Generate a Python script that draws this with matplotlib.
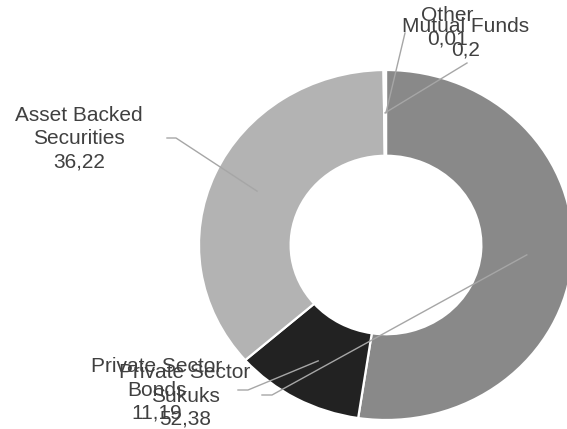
import numpy as np
import matplotlib.pyplot as plt

plt.rcParams['font.family'] = ['Liberation Sans', 'DejaVu Sans']

labels = ['Private Sector\nSukuks', 'Private Sector\nBonds', 'Asset Backed\nSecurities',
          'Mutual Funds', 'Other']
values = [52.38, 11.19, 36.22, 0.2, 0.01]
colors = ['#898989', '#222222', '#b3b3b3', '#ffffff', '#ffffff']

# label placement in picture pixels: text centre, then leader start / elbow
text_px = [(185, 396), (157, 390), (79, 139), (466, 38), (447, 27)]
lead_px = [[(262, 395), (272, 395)], [(238, 390), (248, 390)],
           [(167, 138), (176, 138)], [(467, 63)], [(405, 33)]]

CX, CY, RX, RY = 386, 245, 187, 175
W, H = 567, 429


def to_data(p):
    return ((p[0] - CX) / RX, (CY - p[1]) / RY)


fig = plt.figure(figsize=(5.67, 4.29), dpi=100)
ax = fig.add_axes([0, 0, 1, 1])

wedges, _ = ax.pie(values, colors=colors, startangle=90, counterclock=False,
                   radius=1.0, wedgeprops=dict(width=0.49, edgecolor='white', linewidth=1.6))
ax.set_aspect('auto')
ax.set_xlim(-CX / RX, (W - CX) / RX)
ax.set_ylim(-(H - CY) / RY, CY / RY)
ax.axis('off')

r_mid = 0.755
for w, lab, val, tp, lp in zip(wedges, labels, values, text_px, lead_px):
    ang = np.deg2rad((w.theta1 + w.theta2) / 2)
    end = (r_mid * np.cos(ang), r_mid * np.sin(ang))
    pts = [to_data(p) for p in lp] + [end]
    xs, ys = zip(*pts)
    ax.plot(xs, ys, color='#a6a6a6', lw=1.0, zorder=3)
    tx, ty = to_data(tp)
    txt = lab + '\n' + ('%g' % val).replace('.', ',')
    ax.text(tx, ty, txt, ha='center', va='center', fontsize=15,
            color='#404040', linespacing=1.27, zorder=4)

fig.savefig('out.png', dpi=100)
